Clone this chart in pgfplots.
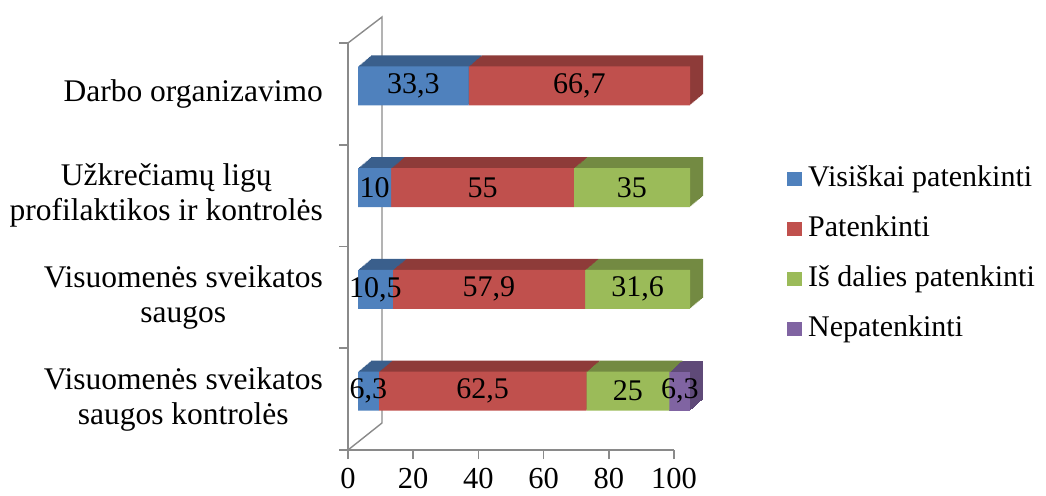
\documentclass[border=0pt]{standalone}
\usepackage{fontspec}
\setmainfont{Liberation Serif}
\usepackage{pgfplots}
\usepackage{pgfplotstable}
\pgfplotsset{compat=1.18}

\definecolor{cBlue}{RGB}{79,129,189}
\definecolor{cRed}{RGB}{192,80,77}
\definecolor{cGreen}{RGB}{155,187,89}
\definecolor{cPurple}{RGB}{128,100,162}
\definecolor{cAxis}{RGB}{138,138,138}

% shares of each answer per area (bottom row first)
\pgfplotstableread{
cat v1   v2   v3   v4
0   6.3  62.5 25   6.3
1   10.5 57.9 31.6 0
2   10   55   35   0
3   33.3 66.7 0    0
}\datatable
% centres of the stacked segments, for the value labels
\pgfplotstablecreatecol[create col/expr={\thisrow{v1}/2}]{m1}\datatable
\pgfplotstablecreatecol[create col/expr={\thisrow{v1}+\thisrow{v2}/2}]{m2}\datatable
\pgfplotstablecreatecol[create col/expr={\thisrow{v1}+\thisrow{v2}+\thisrow{v3}/2}]{m3}\datatable
\pgfplotstablecreatecol[create col/expr={\thisrow{v1}+\thisrow{v2}+\thisrow{v3}+\thisrow{v4}/2}]{m4}\datatable

\newcommand\bigfont{\fontsize{30}{35}\selectfont}
\newcommand\catfont{\fontsize{31.5}{35}\selectfont}
\newcommand\tickfont{\fontsize{30.5}{36}\selectfont}

\pgfplotsset{
  /pgf/number format/assume math mode=true,
  /pgf/number format/use comma,
  frame/.style={scale only axis, width=326pt, height=407pt,
    xmin=0, xmax=100, ymin=-0.5, ymax=3.5, anchor=south west, clip=false},
  bars/.style={frame, width=332pt, hide axis, xbar stacked, bar width=39pt},
}

\begin{document}
\begin{tikzpicture}
% axes, left wall, category labels and legend
\begin{axis}[frame, at={(348pt,45pt)},
  axis x line*=bottom, axis y line*=left,
  axis line style={cAxis, line width=1.6pt},
  tick align=outside,
  major tick length=9pt,
  tick style={cAxis, line width=1.6pt},
  xtick={0,20,...,100},
  xticklabel style={font=\tickfont, inner sep=0pt, anchor=north, yshift=-9pt},
  ytick={-0.5,0.5,1.5,2.5,3.5},
  yticklabels={,,,,,},
  extra y ticks={0,1,2,3},
  extra y tick labels={{Visuomenės sveikatos\\saugos kontrolės},{Visuomenės sveikatos\\saugos},{Užkrečiamų ligų\\profilaktikos ir kontrolės},{Darbo organizavimo}},
  extra y tick style={major tick length=0pt,
    yticklabel style={font=\catfont, align=center, anchor=east, inner sep=0pt, xshift=-25pt}},
  legend style={at={(1.3466,0.6978)}, anchor=north west, draw=none, fill=none,
    inner sep=0pt, row sep=24pt, column sep=6pt, font=\bigfont,
    nodes={inner sep=0pt, text height=20pt, text depth=6pt}},
  legend cell align=left,
  legend image code/.code={\fill[#1] (0pt,-7pt) rectangle (15pt,7pt);},
]
  \draw[cAxis, line width=1.4pt] (rel axis cs:0,1) -- ++(34pt,26pt)
    -- ([shift={(34pt,27pt)}]rel axis cs:0,0) -- (rel axis cs:0,0);
  \addlegendimage{fill=cBlue, draw=none}
  \addlegendentry{Visiškai patenkinti}
  \addlegendimage{fill=cRed, draw=none}
  \addlegendentry{Patenkinti}
  \addlegendimage{fill=cGreen, draw=none}
  \addlegendentry{Iš dalies patenkinti}
  \addlegendimage{fill=cPurple, draw=none}
  \addlegendentry{Nepatenkinti}
\end{axis}

% depth of the bars: darker copies stepped back and up
\foreach \t in {12,11,...,1}{
\begin{axis}[bars, at={({358pt+\t*1.0833pt},{53pt+\t*0.9167pt})}]
  \addplot[fill=cBlue!74!black, draw=none] table[x=v1, y=cat]{\datatable};
  \addplot[fill=cRed!74!black, draw=none] table[x=v2, y=cat]{\datatable};
  \addplot[fill=cGreen!74!black, draw=none] table[x=v3, y=cat]{\datatable};
  \addplot[fill=cPurple!74!black, draw=none] table[x=v4, y=cat]{\datatable};
\end{axis}
}

% front faces
\begin{axis}[bars, at={(358pt,53pt)}]
  \addplot[fill=cBlue, draw=none] table[x=v1, y=cat]{\datatable};
  \addplot[fill=cRed, draw=none] table[x=v2, y=cat]{\datatable};
  \addplot[fill=cGreen, draw=none] table[x=v3, y=cat]{\datatable};
  \addplot[fill=cPurple, draw=none] table[x=v4, y=cat]{\datatable};
\end{axis}

% value labels in the middle of each segment
\begin{axis}[frame, width=332pt, hide axis, at={(358pt,53pt)},
  point meta=explicit,
  nodes near coords={\pgfmathfloatifflags{\pgfplotspointmeta}{0}{}{\pgfmathprintnumber{\pgfplotspointmeta}}},
  nodes near coords style={font=\bigfont, anchor=center, inner sep=0pt, text=black},
]
  \addplot[draw=none, mark=none] table[x=m1, y=cat, meta=v1]{\datatable};
  \addplot[draw=none, mark=none] table[x=m2, y=cat, meta=v2]{\datatable};
  \addplot[draw=none, mark=none] table[x=m3, y=cat, meta=v3]{\datatable};
  \addplot[draw=none, mark=none] table[x=m4, y=cat, meta=v4]{\datatable};
\end{axis}

\pgfresetboundingbox
\path[use as bounding box] (0pt,0pt) rectangle (1046pt,495pt);
\end{tikzpicture}
\end{document}
